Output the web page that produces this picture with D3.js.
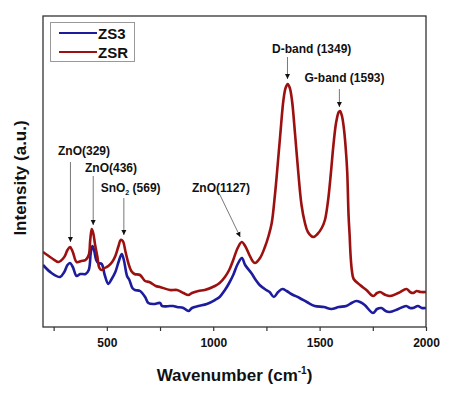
<!DOCTYPE html>
<html><head><meta charset="utf-8">
<script src="https://cdn.jsdelivr.net/npm/d3@7"></script>
<style>body{margin:0;background:#fff}svg{display:block}text{font-family:"Liberation Sans",Arial,sans-serif;font-weight:bold;fill:#111}</style>
</head><body>
<script>
// Raman spectra (intensity in arbitrary units)
const zs3Wave = [200,240,280,300,315,327,340,358,375,400,415,425,432,440,450,460,476,490,507,520,540,555,570,580,595,606,620,632,656,680,695,720,750,760,797,812,830,860,883,900,930,970,1008,1030,1055,1075,1094,1115,1135,1150,1179,1200,1218,1249,1265,1285,1305,1325,1345,1367,1406,1440,1477,1520,1555,1590,1625,1650,1672,1690,1712,1751,1770,1790,1810,1829,1870,1907,1925,1939,1962,1980,2000];
const zs3Int  = [62,54,50,55,62,64,60,51,53,53,57,75,81,77,67,64,63,52,43,47,55,65,73,67,51,47,39,37,36,30,24,23,24,21,21,21,20,19,16,19,21,23,27,30,37,44,52,63,69,62,54,47,42,37,35,30,35,38,36,33,29,25,21,20,18,20,21,24,26,25,22,14,18,19,16,15,18,21,19,19,21,19,19];
const zsrWave = [200,240,272,300,315,327,340,358,380,400,415,422,429,436,445,455,465,475,490,507,525,540,555,565,575,588,601,615,630,656,680,700,730,750,797,830,860,883,900,930,960,1008,1030,1055,1075,1094,1115,1134,1150,1170,1185,1196,1220,1243,1260,1275,1290,1300,1315,1330,1340,1350,1360,1370,1385,1400,1415,1430,1445,1470,1490,1510,1525,1540,1553,1565,1578,1590,1596,1605,1615,1625,1630,1636,1641,1646,1652,1660,1690,1720,1752,1770,1784,1810,1831,1870,1909,1925,1940,1956,1975,2000];
const zsrInt  = [75,69,65,70,77,80,75,65,66,67,72,87,98,94,82,71,59,57,59,61,65,71,81,87,86,75,64,56,53,52,46,45,41,40,37,37,34,32,34,36,37,41,44,50,57,67,79,85,81,72,66,64,69,80,91,104,132,155,192,227,239,243,239,227,192,154,122,105,95,90,93,99,107,127,154,182,205,215,216,211,197,172,154,112,92,70,56,48,42,37,31,34,35,32,31,34,38,35,34,36,35,35];
const seriesNames = ["ZS3","ZSR"];
const xTicks = [500,1000,1500,2000];
const xMinorTicks = [250,750,1250,1750];
const annLabels = ["ZnO(329)","ZnO(436)","SnO|2|(569)","ZnO(1127)","D-band (1349)","G-band (1593)"];
const annWave = [329,436,580,1127,1349,1593];
const annPeak = [80,98,87,85,243,216];

const W=456,H=396, L=43,R=426,T=16,B=327;
const svg=d3.select("body").append("svg").attr("width",W).attr("height",H);
const x=d3.scaleLinear().domain([200,2000]).range([L,R]);
const y=d3.scaleLinear().domain([0,311]).range([B,T]);
const colors=["#1c1c9c","#9c1010"];

const defs=svg.append("defs");
defs.append("marker").attr("id","ah").attr("viewBox","0 0 10 10").attr("refX",10).attr("refY",5)
 .attr("markerWidth",5).attr("markerHeight",6).attr("markerUnits","userSpaceOnUse").attr("orient","auto")
 .append("path").attr("d","M0,0L10,5L0,10Z").attr("fill","#111");

const line=d3.line().x(d=>x(d[0])).y(d=>y(d[1])).curve(d3.curveCatmullRom.alpha(0.5));
const data=[d3.zip(zs3Wave,zs3Int), d3.zip(zsrWave,zsrInt)];
const g=svg.append("g");
g.append("clipPath").attr("id","cp").append("rect").attr("x",L).attr("y",T).attr("width",R-L).attr("height",B-T);
data.forEach((d,i)=>g.append("path").attr("d",line(d)).attr("fill","none").attr("stroke",colors[i]).attr("stroke-width",2.6).attr("stroke-linejoin","round").attr("clip-path","url(#cp)"));

// frame
svg.append("rect").attr("x",L).attr("y",T).attr("width",R-L).attr("height",B-T).attr("fill","none").attr("stroke","#333").attr("stroke-width",1.3);
// x axis
const ax=svg.append("g").attr("transform",`translate(0,${B})`)
 .call(d3.axisBottom(x).tickValues(xTicks).tickSize(4).tickPadding(7).tickFormat(d3.format("d")));
ax.select(".domain").remove();
ax.selectAll("line").attr("stroke","#333").attr("stroke-width",1.2);
ax.selectAll("text").attr("font-size",12).attr("font-weight","bold").attr("fill","#111").attr("font-family","Liberation Sans, Arial, sans-serif");
const axm=svg.append("g").attr("transform",`translate(0,${B})`)
 .call(d3.axisBottom(x).tickValues(xMinorTicks).tickSize(4).tickFormat(""));
axm.select(".domain").remove();
axm.selectAll("line").attr("stroke","#333").attr("stroke-width",1.2);

// axis titles
const xt=svg.append("text").attr("x",(L+R)/2+0).attr("y",381).attr("text-anchor","middle").attr("font-size",17);
xt.append("tspan").text("Wavenumber (cm");
xt.append("tspan").text("-1").attr("font-size",10).attr("dy",-7);
xt.append("tspan").text(")").attr("dy",7);
svg.append("text").attr("transform","translate(26,178) rotate(-90)").attr("text-anchor","middle").attr("font-size",17).text("Intensity (a.u.)");

// legend
const lg=svg.append("g");
lg.append("rect").attr("x",50.5).attr("y",22.5).attr("width",84).attr("height",39).attr("fill","#fff").attr("stroke","#999").attr("stroke-width",1);
seriesNames.forEach((n,i)=>{
  const yy=33+i*19;
  lg.append("line").attr("x1",59).attr("x2",97).attr("y1",yy).attr("y2",yy).attr("stroke",colors[i]).attr("stroke-width",2);
  lg.append("text").attr("x",98).attr("y",yy+5.5).attr("font-size",15).text(n);
});

// annotations: [textX, baseline, lineStartX, lineStartY, tipGap]
const annLayout=[[58,155,null,162,5],[85,172,null,176,4],[100.7,192,null,198,5],[192,191.5,220,195,5],[272,53,null,57,5],[304.5,82,null,89,4]];
annLabels.forEach((lab,i)=>{
  const [tx,ty,sx0,sy,gap]=annLayout[i];
  const t=svg.append("text").attr("x",tx).attr("y",ty).attr("font-size",12);
  const parts=lab.split("|");
  if(parts.length>1){
    t.append("tspan").text(parts[0]);
    t.append("tspan").text(parts[1]).attr("font-size",7).attr("dy",3);
    t.append("tspan").text(" "+parts[2]).attr("dy",-3);
  } else t.text(lab);
  const tipX=x(annWave[i]), tipY=y(annPeak[i])-gap;
  const sx = sx0===null? tipX : sx0;
  svg.append("line").attr("x1",sx).attr("y1",sy).attr("x2",tipX).attr("y2",tipY)
    .attr("stroke","#555").attr("stroke-width",0.8).attr("marker-end","url(#ah)");
});
</script>
</body></html>
